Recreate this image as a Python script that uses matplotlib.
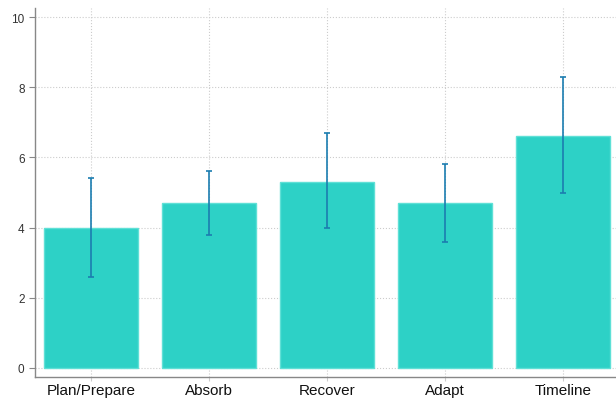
import matplotlib.pyplot as plt
import numpy as np

# donnees
categories = ['Plan/Prepare', 'Absorb', 'Recover', 'Adapt', 'Timeline']
means = [4.0, 4.7, 5.3, 4.7, 6.6]
lower = [2.6, 3.8, 4.0, 3.6, 5.0]
upper = [5.4, 5.6, 6.7, 5.8, 8.3]

plt.rcParams['font.family'] = ['Liberation Sans', 'DejaVu Sans']

fig = plt.figure(figsize=(6.16, 4.02), dpi=100)
ax = fig.add_axes([35 / 616, 24 / 402, 581 / 616, 369 / 402])

x = np.arange(len(categories))
means = np.array(means)
yerr = [means - np.array(lower), np.array(upper) - means]

ax.bar(x, means, width=0.8, color='#2dd1c6', edgecolor='#5fe0d6', linewidth=1, zorder=2)
ax.errorbar(x, means, yerr=yerr, fmt='none', ecolor='#1b7db0', elinewidth=1.2,
            capsize=2, capthick=1.2, zorder=3)

ax.set_xlim(-0.475, 4.45)
ax.set_ylim(-0.26, 10.26)
ax.set_yticks(range(0, 11, 2))
ax.set_xticks(x)
ax.set_xticklabels(categories, fontsize=11)
ax.tick_params(axis='y', labelsize=8.5, colors='#333333', length=4, color='#888888')
ax.tick_params(axis='x', length=3, color='#cccccc', colors='#111111', pad=1.5)
ax.grid(True, linestyle=':', color='#cccccc', linewidth=0.8, zorder=0)
ax.set_axisbelow(True)

for s in ['top', 'right']:
    ax.spines[s].set_visible(False)
for s in ['left', 'bottom']:
    ax.spines[s].set_color('#888888')
    ax.spines[s].set_linewidth(1)

plt.savefig('out.png', dpi=100)
